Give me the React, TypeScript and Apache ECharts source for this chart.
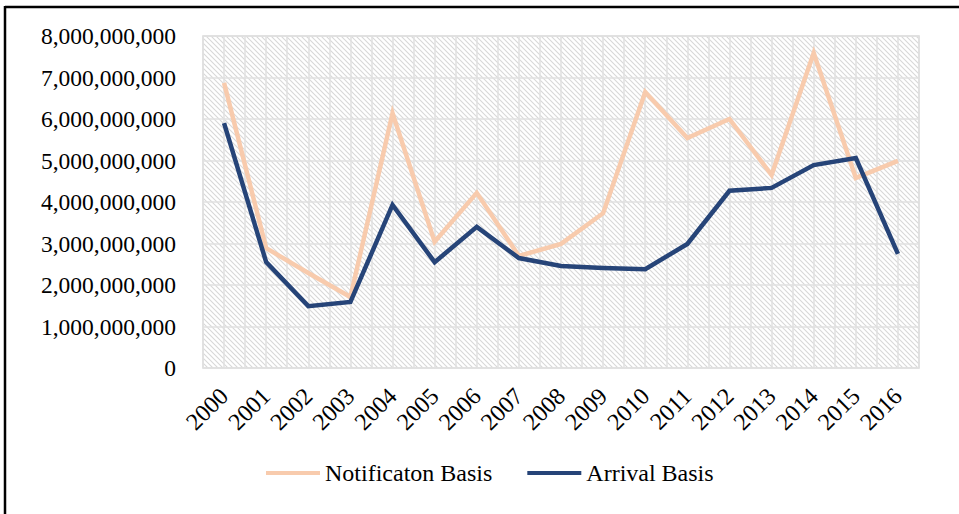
import React, { useEffect, useRef } from "react";
import * as echarts from "echarts";

const years = ["2000","2001","2002","2003","2004","2005","2006","2007","2008","2009","2010","2011","2012","2013","2014","2015","2016"];
const notificationBasis = [6.87e9, 2.89e9, 2.29e9, 1.71e9, 6.14e9, 3.04e9, 4.22e9, 2.70e9, 2.99e9, 3.73e9, 6.65e9, 5.54e9, 6.0e9, 4.65e9, 7.59e9, 4.58e9, 4.99e9];
const arrivalBasis = [5.9e9, 2.55e9, 1.49e9, 1.59e9, 3.93e9, 2.55e9, 3.40e9, 2.65e9, 2.46e9, 2.41e9, 2.38e9, 2.99e9, 4.27e9, 4.34e9, 4.89e9, 5.06e9, 2.75e9];
const seriesNames = ["Notificaton Basis", "Arrival Basis"];
const yTicks = { min: 0, max: 8e9, interval: 1e9 };

function makeHatch() {
  const c = document.createElement("canvas");
  const s = 5;
  c.width = s;
  c.height = s;
  const ctx = c.getContext("2d")!;
  ctx.fillStyle = "#ffffff";
  ctx.fillRect(0, 0, s, s);
  ctx.strokeStyle = "#d8d8d8";
  ctx.lineWidth = 1.1;
  ctx.beginPath();
  ctx.moveTo(-1, -1);
  ctx.lineTo(s + 1, s + 1);
  ctx.moveTo(-1 - s, -1);
  ctx.lineTo(1, s + 1);
  ctx.moveTo(s - 1, -1);
  ctx.lineTo(2 * s + 1, s + 1);
  ctx.stroke();
  return c;
}

export default function App() {
  const ref = useRef<HTMLDivElement>(null);
  useEffect(() => {
    const chart = echarts.init(ref.current!, undefined, { renderer: "svg" });
    const font = "Liberation Serif";
    chart.setOption({
      animation: false,
      backgroundColor: "#ffffff",
      textStyle: { fontFamily: font },
      grid: {
        left: 203,
        right: 40,
        top: 36,
        bottom: 146,
        show: true,
        borderColor: "#d9d9d9",
        borderWidth: 1.5,
        backgroundColor: { image: makeHatch(), repeat: "repeat" },
      },
      legend: {
        left: 261,
        top: 456,
        itemGap: 35,
        itemWidth: 54,
        itemHeight: 4,
        icon: "rect",
        textStyle: { fontFamily: font, fontSize: 24, color: "#000" },
        data: seriesNames,
      },
      graphic: [
        { type: "line", shape: { x1: 5, y1: 7, x2: 959, y2: 7 }, style: { stroke: "#000", lineWidth: 2.5 } },
        { type: "line", shape: { x1: 5, y1: 6, x2: 5, y2: 514 }, style: { stroke: "#000", lineWidth: 2.5 } },
      ],
      xAxis: [
        {
          type: "category",
          data: years,
          boundaryGap: true,
          axisLine: { show: false },
          axisTick: { show: false },
          splitLine: { show: false },
          axisLabel: { rotate: 45, fontFamily: font, fontSize: 24, color: "#000", margin: 24, interval: 0 },
        },
        {
          type: "value",
          min: 0,
          max: years.length * 2,
          interval: 1,
          show: true,
          position: "bottom",
          axisLine: { show: false },
          axisTick: { show: false },
          axisLabel: { show: false },
          splitLine: { show: true, lineStyle: { color: "#e0e0e0", width: 1.5 } },
        },
      ],
      yAxis: {
        type: "value",
        min: yTicks.min,
        max: yTicks.max,
        interval: yTicks.interval,
        axisLine: { show: false },
        axisTick: { show: false },
        axisLabel: {
          fontFamily: font,
          fontSize: 23.5,
          color: "#000",
          margin: 27,
          formatter: (v: number) => v.toLocaleString("en-US"),
        },
        splitLine: { show: true, lineStyle: { color: "#e0e0e0", width: 1.5 } },
      },
      series: [
        {
          name: seriesNames[0],
          type: "line",
          data: notificationBasis,
          symbol: "none",
          color: "#F8CBAD",
          lineStyle: { color: "#F8CBAD", width: 4.5, join: "miter" },
          z: 3,
        },
        {
          name: seriesNames[1],
          type: "line",
          data: arrivalBasis,
          symbol: "none",
          color: "#264478",
          lineStyle: { color: "#264478", width: 4.5, join: "miter" },
          z: 4,
        },
      ],
    });
    return () => chart.dispose();
  }, []);
  return (
    <div
      ref={ref}
      style={{ position: "fixed", left: 0, top: 0, width: 959, height: 514 }}
    />
  );
}
